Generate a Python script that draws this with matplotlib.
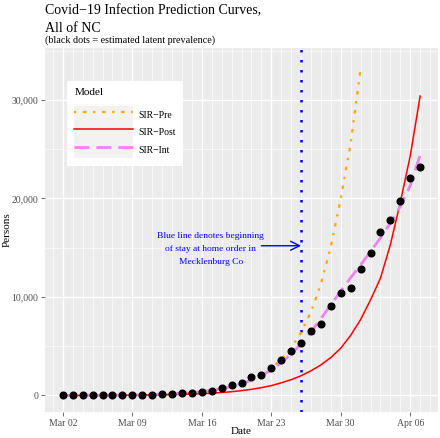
import matplotlib
matplotlib.use("Agg")
import matplotlib.pyplot as plt
import matplotlib.dates as mdates
from matplotlib.ticker import FuncFormatter, MultipleLocator
from matplotlib.patches import Rectangle
from matplotlib.legend_handler import HandlerTuple
import pandas as pd

# daily series, starting Mar 02 2020
dates = pd.date_range("2020-03-02", periods=37)
prevalence = [0, 2, 5, 8, 12, 17, 22, 30, 35, 70, 100, 190, 260, 280, 340, 450,
              770, 1030, 1290, 1850, 2070, 2820, 3560, 4480, 5360, 6540, 7290,
              9130, 10420, 10950, 12860, 14450, 16600, 17820, 19760, 22040, 23160]
sir_pre = [7, 9, 12, 16, 22, 29, 38, 51, 68, 90, 120, 160, 210, 280, 370, 490,
           650, 870, 1150, 1550, 2050, 2750, 3650, 4800, 6400, 8500, 11300,
           15100, 20000, 25600, 33200]
sir_post = [0, 3, 6, 9, 12, 16, 22, 29, 38, 50, 65, 85, 110, 140, 180, 230,
            300, 380, 490, 620, 790, 1000, 1280, 1600, 2000, 2500, 3100, 3850,
            4800, 6100, 7700, 9700, 11900, 15300, 19600, 24300, 30400]
sir_int = [0, 5, 10, 15, 20, 30, 40, 55, 70, 95, 125, 170, 230, 300, 400, 530,
           700, 920, 1200, 1560, 2020, 2600, 3320, 4200, 5250, 6450, 7800, 9200,
           10600, 11950, 13250, 14600, 16000, 17500, 19200, 21300, 24400]
week_ticks = pd.date_range("2020-03-02", periods=6, freq="7D")
order_date = pd.Timestamp("2020-03-26")

plt.rcParams['font.family'] = ['Liberation Serif', 'DejaVu Serif']

fig = plt.figure(figsize=(4.4, 4.38), dpi=100)
ax = fig.add_axes([45 / 440, 26 / 438, 393 / 440, 364 / 438])
ax.set_facecolor('#EBEBEB')
for s in ax.spines.values():
    s.set_visible(False)

pad = pd.Timedelta(days=1.8)
ax.set_xlim(dates[0] - pad, dates[-1] + pad)
ax.set_ylim(-1680, 35280)

ax.set_xticks(week_ticks)
ax.xaxis.set_minor_locator(mdates.DayLocator())
ax.xaxis.set_major_formatter(mdates.DateFormatter('%b %d'))
ax.yaxis.set_major_locator(MultipleLocator(10000))
ax.yaxis.set_minor_locator(MultipleLocator(5000))
ax.yaxis.set_major_formatter(FuncFormatter(lambda v, p: f"{int(v):,}"))
ax.grid(which='major', color='white', lw=1.0)
ax.grid(which='minor', color='white', lw=0.45)
ax.set_axisbelow(True)
ax.tick_params(which='major', length=2.8, width=0.5, color='#333333',
               labelsize=7, labelcolor='#4D4D4D', pad=2)
ax.tick_params(which='minor', length=0)

ax.axvline(order_date, color='blue', lw=1.8, linestyle=(0, (1, 3)),
           dash_capstyle='butt', zorder=2)

l_pre, = ax.plot(dates[:len(sir_pre)], sir_pre, color='orange', lw=1.6,
                 linestyle=(0, (1, 3, 1.6, 3)), zorder=3)
l_post, = ax.plot(dates, sir_post, color='red', lw=1.1, zorder=3)
l_int, = ax.plot(dates, sir_int, color='violet', lw=2.0,
                 linestyle=(0, (5.4, 2.5)), zorder=3)
ax.plot(dates, prevalence, 'o', color='black', ms=4.8, zorder=4)

ax.annotate("", xy=(order_date, 15200), xytext=(dates[20], 15200),
            arrowprops=dict(arrowstyle='->', color='blue', lw=1.0,
                            mutation_scale=16, shrinkA=0, shrinkB=0))
ax.text(dates[0] + pd.Timedelta(days=14.9), 14900,
        "Blue line denotes beginning\nof stay at home order in\nMecklenburg Co",
        color='blue', fontsize=6.8, ha='center', va='center', linespacing=1.8)

ax.set_xlabel("Date", fontsize=8, va='center')
ax.xaxis.set_label_coords(0.5, -20 / 364)
ax.set_ylabel("Persons", fontsize=8, va='center', ha='center')
ax.yaxis.set_label_coords(-38 / 393, 0.5)

fig.text(45 / 440, 1 - 4 / 438,
         "Covid\u221219 Infection Prediction Curves,\nAll of NC",
         fontsize=10, ha='left', va='top', linespacing=1.45)
fig.text(45 / 440, 1 - 40 / 438, "(black dots = estimated latent prevalence)",
         fontsize=7.3, ha='left', va='center')

key_bg = [Rectangle((0, 0), 1, 1, facecolor='#F2F2F2', edgecolor='none')
          for _ in range(3)]
leg = ax.legend([(key_bg[0], l_pre), (key_bg[1], l_post), (key_bg[2], l_int)],
                ["SIR\u2212Pre", "SIR\u2212Post", "SIR\u2212Int"],
                handler_map={tuple: HandlerTuple(ndivide=1, pad=0)},
                title="Model", loc='upper left', bbox_to_anchor=(0.056, 0.909),
                fontsize=7, title_fontsize=8, frameon=True, fancybox=False,
                edgecolor='none', facecolor='white', framealpha=1,
                handlelength=6.0, handleheight=2.4, labelspacing=0,
                handletextpad=0.6, borderpad=0.75, borderaxespad=0)
leg._legend_box.align = 'left'
leg._legend_box.sep = 6

fig.savefig("out.png", dpi=100)
